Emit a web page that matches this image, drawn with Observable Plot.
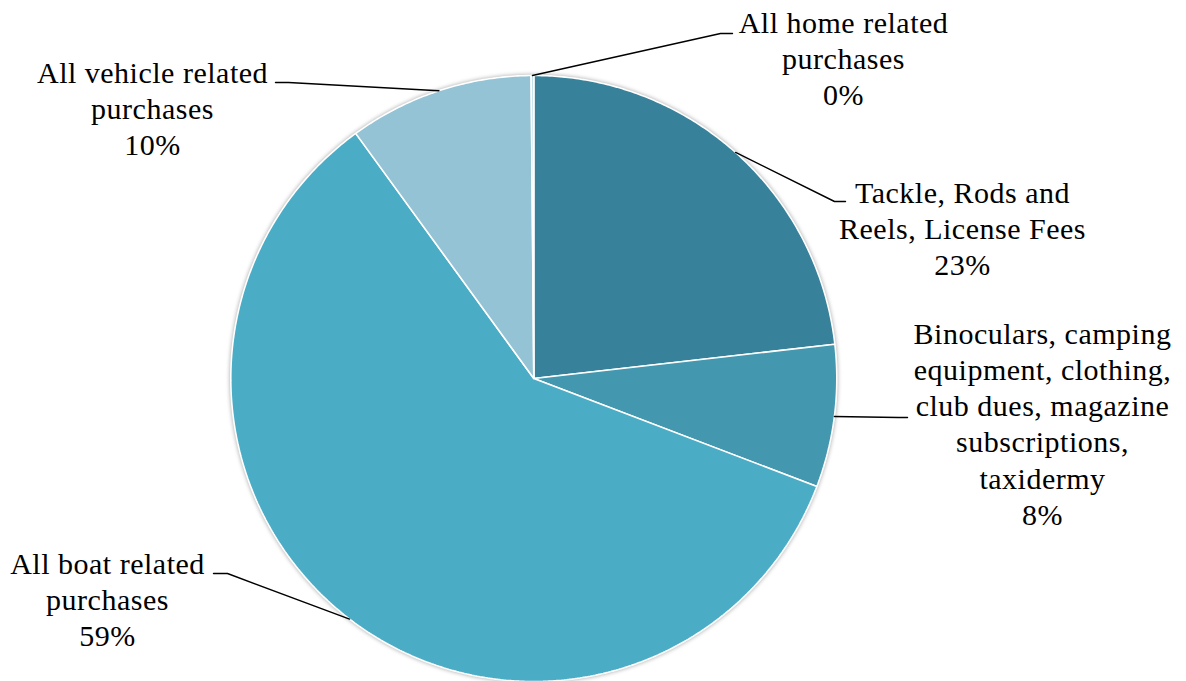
<!DOCTYPE html>
<html><head><meta charset="utf-8">
<script src="https://cdn.jsdelivr.net/npm/d3@7"></script>
<script src="https://cdn.jsdelivr.net/npm/@observablehq/plot@0.6"></script>
<style>
html,body{margin:0;padding:0;background:#fff;}
#chart svg text{letter-spacing:0.5px;}
</style>
</head><body><div id="chart"></div>
<script>
// ---- data ----
const categories = [
  "Tackle, Rods and Reels, License Fees",
  "Binoculars, camping equipment, clothing, club dues, magazine subscriptions, taxidermy",
  "All boat related purchases",
  "All vehicle related purchases",
  "All home related purchases"
];
const shares = [23.2, 7.6, 59.2, 9.86, 0.14];
const percentLabels = ["23%", "8%", "59%", "10%", "0%"];
const labelLines = [
  ["Tackle, Rods and", "Reels, License Fees"],
  ["Binoculars, camping", "equipment, clothing,", "club dues, magazine", "subscriptions,", "taxidermy"],
  ["All boat related", "purchases"],
  ["All vehicle related", "purchases"],
  ["All home related", "purchases"]
];
const colors = ["#37819A", "#4398B0", "#4BACC6", "#93C3D4", "#C3E1EB"];

// ---- layout (pixels) ----
const W = 1186, H = 681;
const cx = 533.3, cy = 378, R = 303;
const fs = 30, lh = 36.3;
// label layout: text centre x, first baseline y, elbow point, end point
const labelLayout = [
  {tx: 962, by: 202, ex: 834, ey: 201, px: 845, py: 201},
  {tx: 1042, by: 343, ex: 898, ey: 417, px: 907, py: 417},
  {tx: 107, by: 573, ex: 227, ey: 573, px: 213, py: 573},
  {tx: 152, by: 82, ex: 288, ey: 82, px: 275, py: 82},
  {tx: 843, by: 32, ex: 720, ey: 33, px: 732, py: 33}
];

const rows = categories.map((c, i) => ({category: c, share: shares[i], i}));
const arcs = d3.pie().sort(null).value(d => d.share).startAngle(0).endAngle(2 * Math.PI)(rows);

const px = a => cx + R * Math.sin(a);
const py = a => cy - R * Math.cos(a);

// slice polygons
const slicePts = [];
arcs.forEach(a => {
  const k = a.data.category;
  slicePts.push({k, x: cx, y: cy});
  const n = Math.max(2, Math.ceil((a.endAngle - a.startAngle) / (Math.PI / 360)));
  for (let j = 0; j <= n; j++) {
    const t = a.startAngle + (a.endAngle - a.startAngle) * j / n;
    slicePts.push({k, x: px(t), y: py(t)});
  }
  slicePts.push({k, x: cx, y: cy});
});

// leader lines from slice midpoints
const leaderPts = [];
arcs.forEach((a, i) => {
  const m = (a.startAngle + a.endAngle) / 2;
  const L = labelLayout[i];
  leaderPts.push({k: i, x: px(m), y: py(m)});
  leaderPts.push({k: i, x: L.ex, y: L.ey});
  leaderPts.push({k: i, x: L.px, y: L.py});
});

const labels = categories.map((c, i) => {
  const lines = [...labelLines[i], percentLabels[i]];
  const L = labelLayout[i];
  return {text: lines.join("\n"), x: L.tx, y: L.by + (lines.length - 1) * lh};
});

const plot = Plot.plot({
  width: W, height: H, margin: 0,
  x: {domain: [0, W], range: [0, W], axis: null},
  y: {domain: [0, H], range: [0, H], axis: null},
  color: {domain: categories, range: colors},
  style: {background: "white", fontFamily: "'Liberation Serif', 'Times New Roman', serif", fontSize: fs + "px", color: "black"},
  marks: [
    Plot.line(slicePts, {x: "x", y: "y", z: "k", fill: "k", stroke: "white", strokeWidth: 1.6, strokeLinejoin: "miter"}),
    Plot.line(leaderPts, {x: "x", y: "y", z: "k", stroke: "black", strokeWidth: 1.4, strokeLinejoin: "miter"}),
    Plot.text(labels, {x: "x", y: "y", text: "text", lineAnchor: "bottom", lineHeight: lh / fs, fontSize: fs, fill: "black", textAnchor: "middle"})
  ]
});
d3.select(plot).select('g[aria-label="line"]').style("filter", "drop-shadow(0px 0px 2px rgba(0,0,0,0.35))");
document.getElementById("chart").appendChild(plot);
</script>
</body></html>
